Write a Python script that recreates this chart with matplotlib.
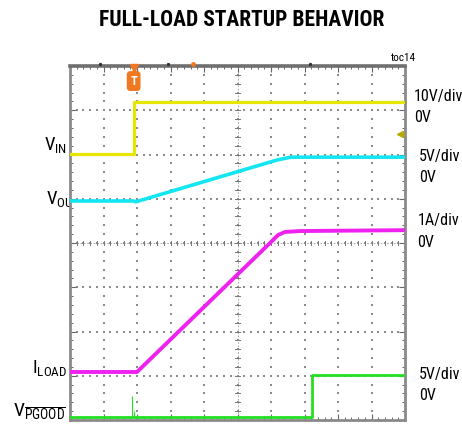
import numpy as np
import matplotlib
matplotlib.use("Agg")
from matplotlib import pyplot as plt

plt.rcParams['font.family'] = ['Roboto Condensed', 'Liberation Sans', 'DejaVu Sans']
plt.rcParams['mathtext.fontset'] = 'custom'
plt.rcParams['mathtext.rm'] = 'Roboto Condensed'
plt.rcParams['mathtext.it'] = 'Roboto Condensed'

# scope traces, in screen divisions (x: 0..10, y: 0..8)
vin_x = [0, 1.90, 1.90, 10]
vin_y = [6.01, 6.01, 7.19, 7.19]

vout_x = [0, 1.90, 1.96, 6.2, 6.6, 10]
vout_y = [4.95, 4.95, 4.93, 5.88, 5.94, 5.94]

iload_x = [0, 2.0, 5.97, 6.21, 6.42, 6.87, 10]
iload_y = [1.085, 1.085, 4.0, 4.18, 4.25, 4.27, 4.29]

pgood_x = [0, 7.22, 7.22, 10]
pgood_y = [0.07, 0.07, 1.02, 1.02]
spike_x = [1.84, 1.91]
spike_top = [0.54, 0.20]

right_labels = [("10V/div", 414, 97), ("0V", 414, 117),
                ("5V/div", 419, 157), ("0V", 419, 178),
                ("1A/div", 418, 220), ("0V", 417, 242),
                ("5V/div", 419, 375), ("0V", 419, 395)]

W, H = 462, 425
fig = plt.figure(figsize=(W / 100, H / 100), dpi=100)
ax = fig.add_axes([70 / W, 5 / H, 335 / W, 354 / H])
ax.set_xlim(0, 10)
ax.set_ylim(0, 8)

# dotted graticule
for k in range(1, 10):
    yy = np.arange(0, 8.01, 0.2)
    ax.scatter(np.full_like(yy, k), yy, s=0.6, c='#8c8c8c', marker='s', lw=0, zorder=1)
for k in range(1, 8):
    xx = np.arange(0, 10.01, 0.2)
    ax.scatter(xx, np.full_like(xx, k), s=0.6, c='#8c8c8c', marker='s', lw=0, zorder=1)

# centre cross with small ticks
ax.plot([5, 5], [0, 8], color='#999999', lw=0.6, ls=(0, (2, 2)), zorder=1)
ax.plot([0, 10], [4, 4], color='#999999', lw=0.6, ls=(0, (2, 2)), zorder=1)
for v in np.arange(0, 10.01, 0.2):
    ax.plot([v, v], [3.95, 4.05], color='#777777', lw=0.7, zorder=1)
for v in np.arange(0, 8.01, 0.2):
    ax.plot([4.93, 5.07], [v, v], color='#777777', lw=0.7, zorder=1)

ax.set_xticks(np.arange(0, 10.01, 1))
ax.set_yticks(np.arange(0, 8.01, 1))
ax.set_xticks(np.arange(0, 10.01, 0.2), minor=True)
ax.set_yticks(np.arange(0, 8.01, 0.2), minor=True)
ax.tick_params(which='both', direction='in', top=True, right=True,
               labelleft=False, labelbottom=False, color='#666666')
ax.tick_params(which='major', length=4, width=0.8)
ax.tick_params(which='minor', length=2.5, width=0.7)
for s in ax.spines.values():
    s.set_color('#8a8a8a')
    s.set_linewidth(2)
ax.spines['top'].set_color('#6e6e6e')
ax.spines['top'].set_linewidth(2.6)

# traces
ax.plot(vin_x, vin_y, color='#e6e600', lw=2.3, zorder=3)
ax.plot(vout_x, vout_y, color='#12e6f2', lw=2.6, zorder=3)
ax.plot(iload_x, iload_y, color='#f020f0', lw=2.8, zorder=3)
ax.plot(pgood_x, pgood_y, color='#22e022', lw=2.0, zorder=3)
ax.vlines(spike_x, 0.07, spike_top, color='#22e022', lw=0.8, zorder=3)

# trigger marker and level arrow
ax.plot(1.90, 7.95, marker='v', color='#f07820', ms=6, clip_on=False, zorder=5)
ax.text(1.90, 7.66, 'T', color='white', fontsize=9, fontweight='bold',
        ha='center', va='center', zorder=5,
        bbox=dict(boxstyle='round,pad=0.22', fc='#f07820', ec='#f07820'))
ax.plot(9.85, 6.46, marker='<', color='#b8a800', ms=5, zorder=5)
ax.plot([9.85, 9.97], [6.46, 6.46], color='#b8a800', lw=1, zorder=5)
ax.plot(3.67, 8.04, marker='o', color='#f07820', ms=2.5, clip_on=False, zorder=5)
for v in [0.9, 2.93, 7.17]:
    ax.plot(v, 8.05, marker='s', color='#333333', ms=1.2, clip_on=False, zorder=5)

# left channel labels (drawn behind the axes)
lab = dict(ha='right', va='baseline', zorder=-1)
fig.text(67 / W, 1 - 150 / H, r'$\mathregular{V_{IN}}$', fontsize=13.5, **lab)
fig.text(80 / W, 1 - 204 / H, r'$\mathregular{V_{OUT}}$', fontsize=13.5, **lab)
fig.text(67 / W, 1 - 373 / H, r'$\mathregular{I_{LOAD}}$', fontsize=13.5, **lab)
fig.text(66 / W, 1 - 417 / H, r'$\mathregular{V_{\overline{PGOOD}}}$', fontsize=14, **lab)

for txt, px, py in right_labels:
    fig.text(px / W, 1 - py / H, txt, fontsize=11.5, ha='left', va='center')

fig.text(242 / W, 1 - 20 / H, 'FULL-LOAD STARTUP BEHAVIOR', fontsize=15.5,
         fontweight='bold', ha='center', va='center')
fig.text(416 / W, 1 - 58 / H, 'toc14', fontsize=8, ha='right', va='center')

fig.savefig('out.png', dpi=100)
